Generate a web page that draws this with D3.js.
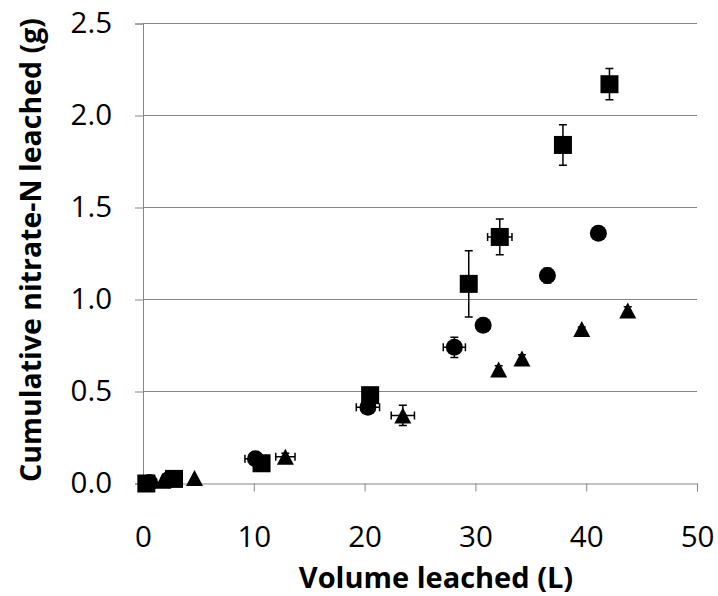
<html>
<head>
  <meta charset="UTF-8">
  <script src="https://d3js.org/d3.v7.min.js"></script>
  <style>
    body { margin: 0; background: #fff; }
    text { font-family: "Open Sans", sans-serif; fill: #000; }
  </style>
</head>
<body>
  <svg id="chart" width="718" height="596"></svg>
  <script>
    // axis ticks
    const xTicks = [ 0, 10, 20, 30, 40, 50 ];
    const yTicks = [ 0, 0.5, 1.0, 1.5, 2.0, 2.5 ];

    // squares
    const squareX = [ 0.3, 2.8, 10.7, 20.5, 29.4, 32.2, 37.9, 42.1 ];
    const squareY = [ 0.0, 0.025, 0.11, 0.48, 1.085, 1.34, 1.84, 2.17 ];
    const squareXErr = [ 0, 0, 0, 0, 0, 1.1, 0, 0 ];
    const squareYErr = [ 0, 0, 0, 0, 0.18, 0.097, 0.11, 0.085 ];

    // circles
    const circleX = [ 0.6, 2.3, 10.15, 20.3, 28.1, 30.7, 36.5, 41.1 ];
    const circleY = [ 0.005, 0.02, 0.135, 0.415, 0.74, 0.86, 1.13, 1.36 ];
    const circleXErr = [ 0, 0, 0.95, 1.05, 1.0, 0, 0, 0 ];
    const circleYErr = [ 0, 0, 0.01, 0.02, 0.055, 0.01, 0.04, 0.01 ];

    // triangles
    const triX = [ 1.8, 4.65, 12.85, 23.45, 32.1, 34.2, 39.6, 43.75 ];
    const triY = [ 0.015, 0.03, 0.145, 0.37, 0.62, 0.68, 0.84, 0.94 ];
    const triXErr = [ 0, 0, 0.87, 1.05, 0, 0, 0, 0 ];
    const triYErr = [ 0, 0, 0.02, 0.055, 0.02, 0.02, 0.01, 0.02 ];

    const grey = "#868686";
    const svg = d3.select( "#chart" );

    const x = d3.scaleLinear().domain( [ 0, 50 ] ).range( [ 143, 697 ] );
    const y = d3.scaleLinear().domain( [ 0, 2.5 ] ).range( [ 483.5, 23.5 ] );

    // gridlines
    svg.append( "g" )
      .selectAll( "line" )
      .data( yTicks.slice( 1 ) ).enter()
      .append( "line" )
      .attr( "x1", x( 0 ) ).attr( "x2", x( 50 ) )
      .attr( "y1", d => y( d ) ).attr( "y2", d => y( d ) )
      .style( "stroke", grey ).style( "stroke-width", 1 );

    // Y axis
    const yAxis = svg.append( "g" )
      .attr( "transform", "translate(" + x( 0 ) + ",0)" )
      .call( d3.axisLeft( y ).tickValues( yTicks ).tickFormat( d3.format( ".1f" ) ).tickSizeOuter( 0 ).tickSize( 8 ).tickPadding( 23 ) );

    // X axis
    const xAxis = svg.append( "g" )
      .attr( "transform", "translate(0," + y( 0 ) + ")" )
      .call( d3.axisBottom( x ).tickValues( xTicks ).tickSizeOuter( 0 ).tickSize( 8 ).tickPadding( 35 ) );

    [ yAxis, xAxis ].forEach( a => {
      a.select( ".domain" ).style( "stroke", grey );
      a.selectAll( ".tick line" ).style( "stroke", grey );
      a.selectAll( "text" ).style( "font-family", "'Open Sans', sans-serif" ).style( "font-size", "29.5px" ).style( "fill", "#000" );
    } );

    // axis titles
    svg.append( "text" )
      .attr( "x", 436 ).attr( "y", 588 )
      .attr( "text-anchor", "middle" )
      .style( "font-size", "29px" ).style( "font-weight", "bold" )
      .text( "Volume leached (L)" );

    svg.append( "text" )
      .attr( "transform", "translate(41,250) rotate(-90)" )
      .attr( "text-anchor", "middle" )
      .style( "font-size", "28.5px" ).style( "font-weight", "bold" )
      .text( "Cumulative nitrate-N leached (g)" );

    function series( xs, ys, xe, ye, shape ) {
      const data = xs.map( ( v, i ) => ( { x: v, y: ys[ i ], xe: xe[ i ], ye: ye[ i ] } ) );
      const g = svg.append( "g" );
      const cap = 4;
      data.forEach( d => {
        const cx = x( d.x ), cy = y( d.y );
        if ( d.ye > 0 ) {
          const t = y( d.y + d.ye ), b = y( d.y - d.ye );
          g.append( "path" )
            .attr( "d", "M" + cx + "," + t + "V" + b + "M" + ( cx - cap ) + "," + t + "H" + ( cx + cap ) + "M" + ( cx - cap ) + "," + b + "H" + ( cx + cap ) )
            .style( "stroke", "#000" ).style( "stroke-width", 1.5 ).style( "fill", "none" );
        }
        if ( d.xe > 0 ) {
          const l = x( d.x - d.xe ), r = x( d.x + d.xe );
          g.append( "path" )
            .attr( "d", "M" + l + "," + cy + "H" + r + "M" + l + "," + ( cy - cap ) + "V" + ( cy + cap ) + "M" + r + "," + ( cy - cap ) + "V" + ( cy + cap ) )
            .style( "stroke", "#000" ).style( "stroke-width", 1.5 ).style( "fill", "none" );
        }
      } );
      if ( shape === "square" ) {
        g.selectAll( "rect" ).data( data ).enter()
          .append( "rect" )
          .attr( "x", d => x( d.x ) - 9 ).attr( "y", d => y( d.y ) - 9 )
          .attr( "width", 18 ).attr( "height", 18 )
          .style( "fill", "#000" );
      } else if ( shape === "circle" ) {
        g.selectAll( "circle" ).data( data ).enter()
          .append( "circle" )
          .attr( "cx", d => x( d.x ) ).attr( "cy", d => y( d.y ) )
          .attr( "r", 8.5 )
          .style( "fill", "#000" );
      } else {
        g.selectAll( "path.tri" ).data( data ).enter()
          .append( "path" ).attr( "class", "tri" )
          .attr( "d", d => {
            const cx = x( d.x ), cy = y( d.y );
            return "M" + cx + "," + ( cy - 8 ) + "L" + ( cx + 8.5 ) + "," + ( cy + 8 ) + "L" + ( cx - 8.5 ) + "," + ( cy + 8 ) + "Z";
          } )
          .style( "fill", "#000" );
      }
    }

    series( circleX, circleY, circleXErr, circleYErr, "circle" );
    series( triX, triY, triXErr, triYErr, "triangle" );
    series( squareX, squareY, squareXErr, squareYErr, "square" );
  </script>
</body>
</html>
